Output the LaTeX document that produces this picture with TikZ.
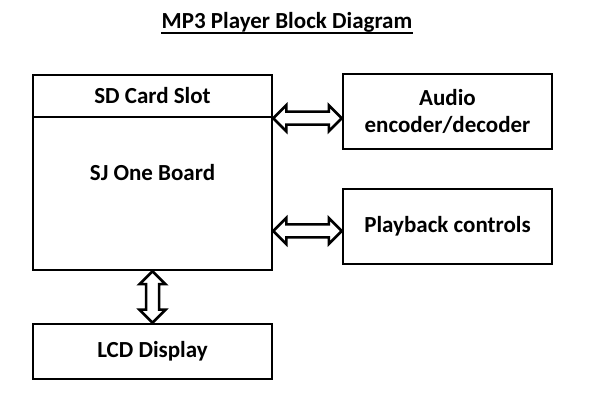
\documentclass[tikz,border=0pt]{standalone}
\usepackage{fontspec}
\setmainfont{Carlito}
\usetikzlibrary{calc}
\tikzstyle{block} = [rectangle, draw=black, line width=1.25pt, text centered, inner sep=0pt, font=\fontsize{11.5}{13.5}\selectfont\bfseries]
\tikzstyle{link} = [draw=black, fill=white, line width=1.25pt,
    to path={(\tikztostart)
        -- ($(\tikztostart)!6.5pt!(\tikztotarget)!6.5pt!90:(\tikztotarget)$)
        -- ($(\tikztostart)!6.5pt!(\tikztotarget)!3.25pt!90:(\tikztotarget)$)
        -- ($(\tikztotarget)!6.5pt!(\tikztostart)!3.25pt!-90:(\tikztostart)$)
        -- ($(\tikztotarget)!6.5pt!(\tikztostart)!6.5pt!-90:(\tikztostart)$)
        -- (\tikztotarget)
        -- ($(\tikztotarget)!6.5pt!(\tikztostart)!6.5pt!90:(\tikztostart)$)
        -- ($(\tikztotarget)!6.5pt!(\tikztostart)!3.25pt!90:(\tikztostart)$)
        -- ($(\tikztostart)!6.5pt!(\tikztotarget)!3.25pt!-90:(\tikztotarget)$)
        -- ($(\tikztostart)!6.5pt!(\tikztotarget)!6.5pt!-90:(\tikztotarget)$)
        -- cycle}]

\begin{document}
\begin{tikzpicture}[x=0.5pt, y=-0.5pt]

    \useasboundingbox (0,0) rectangle (616,410);

    \node (title) [anchor=base, inner xsep=0pt, font=\fontsize{11.5}{13.5}\selectfont\bfseries] at (287,29) {MP3 Player Block Diagram};
    \draw [line width=1pt] ([yshift=-1.9pt]title.base west) -- ([yshift=-1.9pt]title.base east);

    \node (board) [block, minimum width=119.5pt, minimum height=97.5pt] at (152.5,172.5) {SJ One Board};
    \node (sdslot) [block, anchor=north, minimum width=119.5pt, minimum height=21pt] at (board.north) {SD Card Slot};
    \node (audio) [block, align=center, minimum width=104.5pt, minimum height=37.5pt] at (447.5,111.5) {Audio\\encoder/decoder};
    \node (playback) [block, minimum width=104.5pt, minimum height=37.5pt] at (447.5,226.5) {Playback controls};
    \node (lcd) [block, minimum width=119.5pt, minimum height=27.5pt] at (152.5,351.5) {LCD Display};

    \coordinate (p1) at (audio.west |- sdslot.south east);
    \coordinate (p2) at ([yshift=-2.25pt]playback.west);
    \coordinate (p2a) at (board.east |- p2);

    \draw [link] (sdslot.south east) to (p1);
    \draw [link] (p2a) to (p2);
    \draw [link] (board.south) to (lcd.north);

\end{tikzpicture}
\end{document}
